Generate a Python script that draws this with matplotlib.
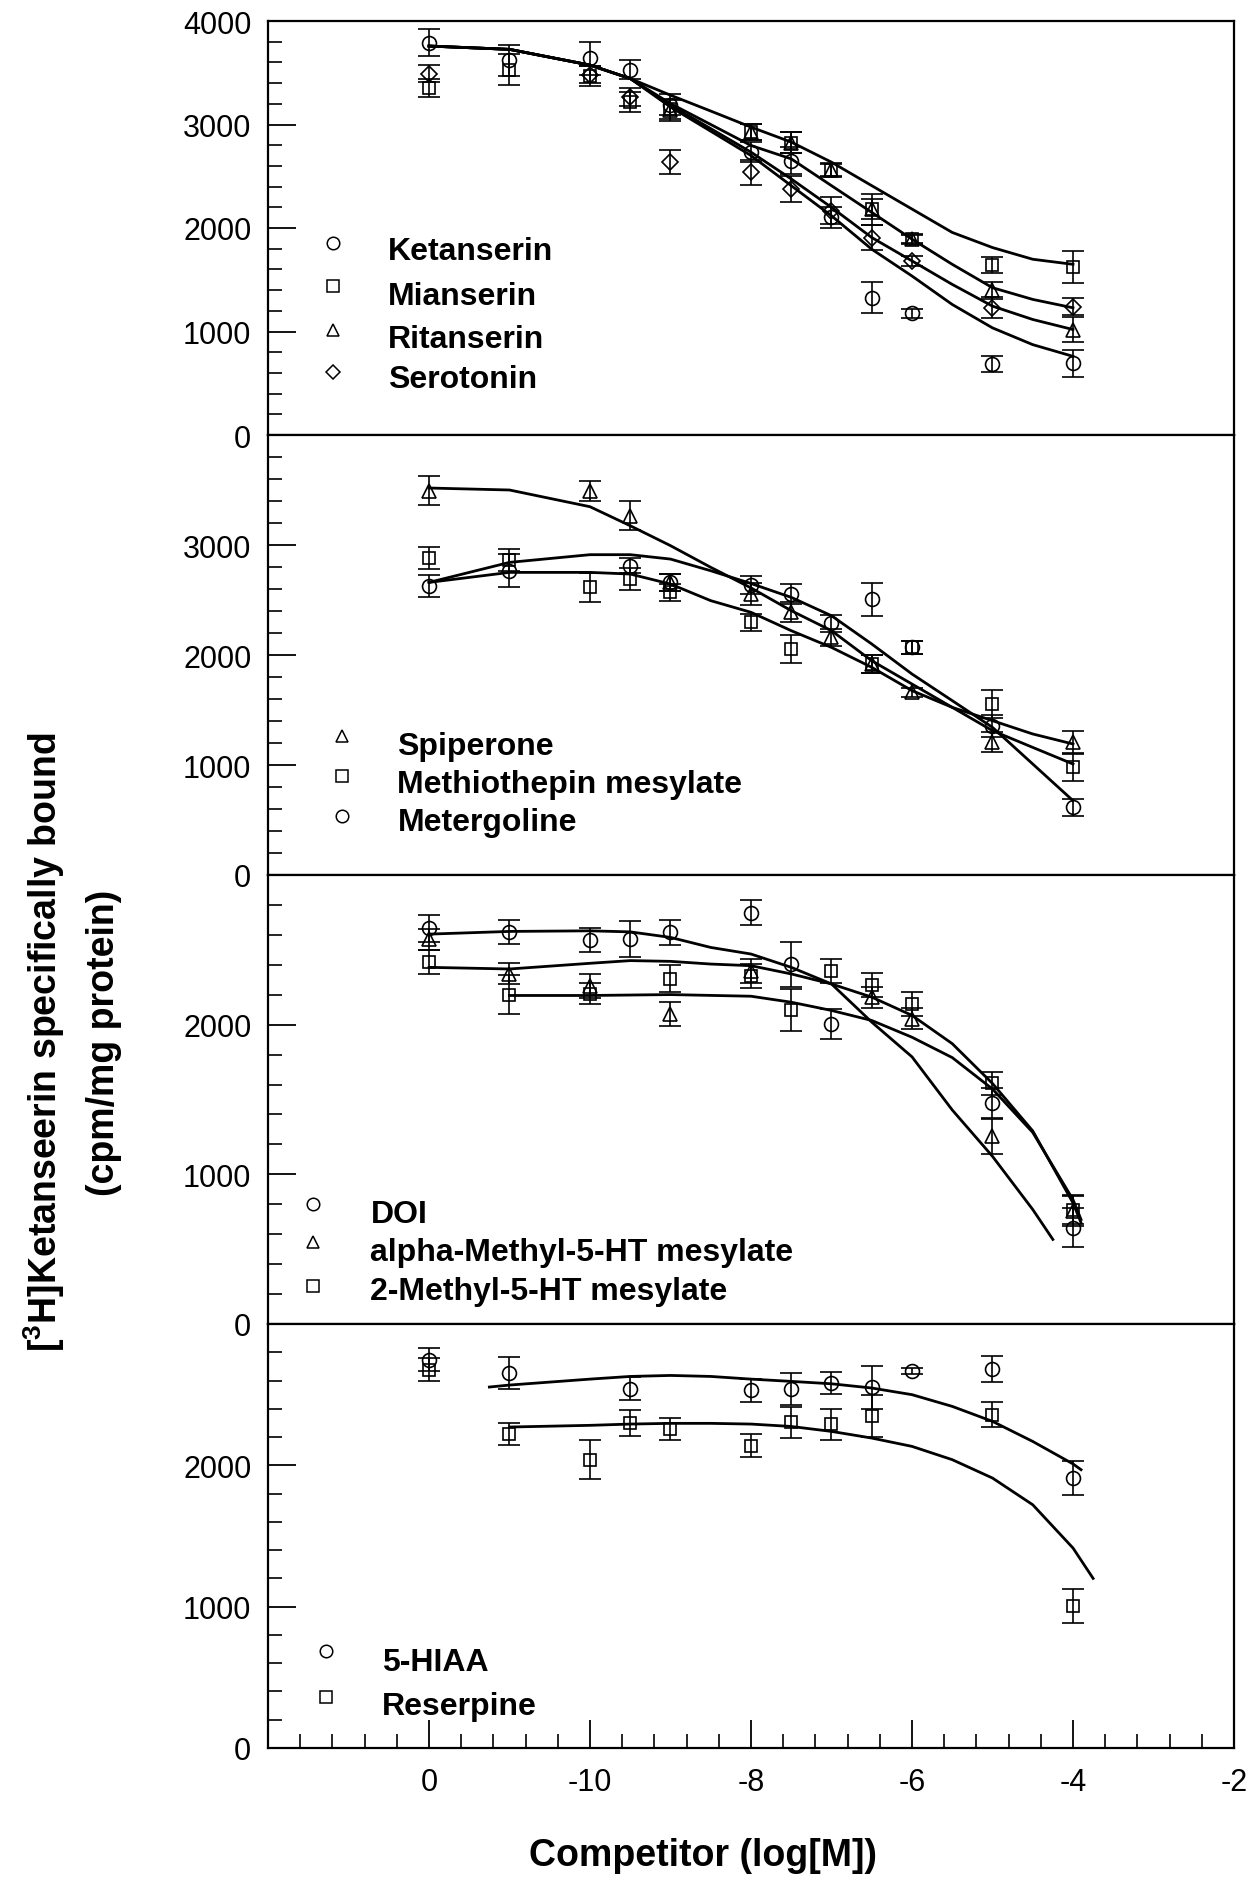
import matplotlib
matplotlib.use("Agg")
import matplotlib.pyplot as plt
from matplotlib.ticker import AutoMinorLocator

plt.rcParams['font.family'] = ['Liberation Sans', 'DejaVu Sans']
plt.rcParams['mathtext.default'] = 'regular'
NARROW = ['Liberation Sans Narrow', 'Liberation Sans', 'DejaVu Sans']

# ---- panel 1 : antagonists ----
ket_x = [-12, -11, -10, -9.5, -9, -8, -7.5, -7, -6.5, -6, -5, -4]
ket_y = [3790, 3622, 3638, 3531, 3192, 2733, 2652, 2102, 1326, 1174, 686, 695]
ket_e = [130, 150, 160, 90, 100, 100, 130, 100, 150, 40, 80, 130]
mia_x = [-12, -11, -10, -9.5, -9, -8, -7.5, -7, -6.5, -6, -5, -4]
mia_y = [3354, 3531, 3470, 3218, 3150, 2927, 2823, 2561, 2183, 1892, 1643, 1623]
mia_e = [90, 150, 100, 100, 100, 80, 100, 60, 150, 50, 80, 150]
rit_x = [-9, -8, -7.5, -7, -6.5, -6, -5, -4]
rit_y = [3137, 2927, 2823, 2561, 2183, 1892, 1397, 1019]
rit_e = [100, 80, 100, 70, 100, 40, 80, 120]
ser_x = [-12, -10, -9.5, -9, -8, -7.5, -7, -6.5, -6, -5, -4]
ser_y = [3492, 3483, 3266, 2638, 2539, 2377, 2167, 1908, 1682, 1229, 1240]
ser_e = [80, 80, 90, 120, 120, 130, 130, 120, 50, 100, 80]

fit1_x = [-12, -11, -10, -9.5, -9, -8.5, -8, -7.5, -7, -6.5, -6, -5.5, -5, -4.5, -4]
fit_mia = [3758, 3726, 3574, 3444, 3283, 3130, 2975, 2830, 2636, 2409, 2183, 1957, 1811, 1698, 1649]
fit_rit = [3758, 3726, 3574, 3444, 3202, 3000, 2797, 2668, 2409, 2151, 1892, 1649, 1423, 1310, 1229]
fit_ser = [3758, 3726, 3574, 3444, 3185, 2960, 2733, 2474, 2199, 1908, 1682, 1455, 1245, 1116, 1019]
fit_ket = [3758, 3726, 3574, 3444, 3169, 2935, 2700, 2409, 2118, 1795, 1536, 1261, 1035, 873, 760]

# ---- panel 2 ----
spi_x = [-12, -10, -9.5, -9, -8, -7.5, -7, -6.5, -6, -5, -4]
spi_y = [3494, 3494, 3266, 2660, 2554, 2388, 2160, 1918, 1660, 1206, 1206]
spi_e = [130, 90, 130, 80, 100, 90, 80, 80, 40, 90, 100]
mth_x = [-12, -11, -10, -9.5, -9, -8, -7.5, -6.5, -6, -5, -4]
mth_y = [2878, 2863, 2615, 2691, 2569, 2297, 2054, 1918, 2069, 1554, 979]
mth_e = [100, 100, 130, 100, 80, 80, 130, 80, 60, 130, 120]
mtg_x = [-12, -11, -9.5, -9, -8, -7.5, -7, -6.5, -6, -5, -4]
mtg_y = [2630, 2766, 2812, 2660, 2639, 2554, 2288, 2509, 2069, 1357, 615]
mtg_e = [100, 150, 70, 80, 80, 90, 80, 150, 60, 100, 80]

fit2_x = [-12, -11, -10, -9.5, -9, -8.5, -8, -7.5, -7, -6.5, -6, -5.5, -5, -4.5, -4]
fit_spi = [3518, 3500, 3348, 3175, 2994, 2797, 2610, 2403, 2221, 1948, 1736, 1524, 1312, 1160, 1009]
fit_mtg = [2660, 2842, 2912, 2912, 2872, 2766, 2650, 2524, 2357, 2100, 1827, 1585, 1342, 1009, 676]
fit_mth = [2660, 2751, 2751, 2736, 2645, 2494, 2388, 2221, 2069, 1888, 1676, 1524, 1403, 1282, 1191]

# ---- panel 3 ----
doi_x = [-12, -11, -10, -9.5, -9, -8, -7.5, -7, -5, -4]
doi_y = [2645, 2616, 2565, 2572, 2616, 2749, 2405, 2006, 1474, 643]
doi_e = [90, 80, 80, 120, 85, 85, 150, 100, 100, 130]
amt_x = [-12, -11, -10, -9, -8, -6.5, -6, -5, -4]
amt_y = [2572, 2339, 2261, 2073, 2361, 2184, 2040, 1253, 754]
amt_e = [70, 70, 80, 80, 80, 70, 70, 120, 100]
mht_x = [-12, -11, -10, -9, -8, -7.5, -7, -6.5, -6, -5, -4]
mht_y = [2417, 2201, 2206, 2306, 2328, 2095, 2361, 2266, 2139, 1607, 765]
mht_e = [80, 130, 70, 90, 80, 140, 80, 80, 80, 80, 100]

fit_doi_x = [-12, -11, -10, -9.5, -9, -8.5, -8, -7.5, -7, -6.5, -6, -5.5, -5, -4.5, -4.25]
fit_doi = [2605, 2623, 2627, 2620, 2583, 2516, 2472, 2383, 2272, 2017, 1785, 1430, 1120, 765, 565]
fit_amt_x = [-12, -11, -10, -9.5, -9, -8.5, -8, -7.5, -7, -6.5, -6, -5.5, -5, -4.5, -4, -3.9]
fit_amt = [2383, 2372, 2410, 2428, 2423, 2405, 2394, 2339, 2272, 2184, 2062, 1873, 1607, 1290, 809, 676]
fit_mht_x = [-11, -10, -9, -8, -7.5, -7, -6.5, -6, -5.5, -5, -4.5, -4, -3.9]
fit_mht = [2195, 2195, 2201, 2190, 2150, 2095, 2028, 1916, 1780, 1570, 1280, 831, 698]

# ---- panel 4 ----
hia_x = [-12, -11, -9.5, -8, -7.5, -7, -6.5, -6, -5, -4]
hia_y = [2747, 2653, 2542, 2530, 2540, 2582, 2551, 2669, 2681, 1910]
hia_e = [80, 110, 80, 80, 110, 80, 150, 20, 90, 120]
res_x = [-12, -11, -10, -9.5, -9, -8, -7.5, -7, -6.5, -5, -4]
res_y = [2676, 2221, 2040, 2299, 2257, 2139, 2304, 2292, 2351, 2358, 1002]
res_e = [80, 80, 140, 90, 80, 80, 110, 110, 150, 90, 120]

fit_hia_x = [-11.25, -11, -10, -9.5, -9, -8.5, -8, -7.5, -7, -6.5, -6, -5.5, -5, -4.5, -4, -3.9]
fit_hia = [2554, 2568, 2610, 2629, 2636, 2629, 2610, 2594, 2577, 2547, 2500, 2417, 2311, 2169, 2010, 1969]
fit_res_x = [-11, -10, -9.5, -9, -8.5, -8, -7.5, -7, -6.5, -6, -5.5, -5, -4.5, -4, -3.75]
fit_res = [2271, 2283, 2292, 2297, 2297, 2292, 2275, 2240, 2193, 2134, 2040, 1910, 1721, 1415, 1200]

xtick_pos = [-12, -10, -8, -6, -4, -2]
xtick_lab = ['0', '-10', '-8', '-6', '-4', '-2']

MS = {'o': 10, 's': 9, '^': 10, 'D': 8}


def series(ax, x, y, e, m):
    ax.errorbar(x, y, yerr=e, fmt='none', ecolor='black', elinewidth=1.2,
                capsize=8, capthick=1.2, zorder=2)
    ax.plot(x, y, linestyle='none', marker=m, ms=MS[m], mfc='none',
            mec='black', mew=1.2, zorder=3)


def legend(ax, mx, tx, rows):
    for m, ty, my, name in rows:
        ax.plot([mx], [my], marker=m, ms=MS[m] * 0.9, mfc='none', mec='black',
                mew=1.1, transform=ax.transAxes, clip_on=False)
        ax.text(tx, ty, name, transform=ax.transAxes, fontsize=23,
                fontweight='bold', va='center', ha='left')


fig = plt.figure(figsize=(12.54, 18.81), dpi=100)
x0, w = 268 / 1254, 966 / 1254
bounds = [(22, 436), (436, 876), (876, 1325), (1325, 1749)]
axes = []
for top, bot in bounds:
    ax = fig.add_axes([x0, 1 - bot / 1881, w, (bot - top) / 1881])
    axes.append(ax)

ylims = [4000, 4000, 3000, 3000]
yticks = [[0, 1000, 2000, 3000, 4000], [0, 1000, 2000, 3000],
          [0, 1000, 2000], [0, 1000, 2000]]
for i, ax in enumerate(axes):
    ax.set_xlim(-14, -2)
    ax.set_ylim(0, ylims[i])
    ax.set_yticks(yticks[i])
    ax.yaxis.set_minor_locator(AutoMinorLocator(5))
    ax.set_xticks(xtick_pos)
    ax.set_xticklabels(xtick_lab, fontsize=25, family=NARROW)
    ax.xaxis.set_minor_locator(AutoMinorLocator(5))
    ax.tick_params(axis='both', which='major', direction='in', length=20,
                   width=1.3, labelsize=22, pad=12)
    ax.tick_params(axis='both', which='minor', direction='in', length=10,
                   width=1.2)
    ax.tick_params(axis='y', which='both', right=False)
    ax.tick_params(axis='x', which='both', top=False)
    ax.tick_params(axis='x', which='major', pad=14)
    for s in ax.spines.values():
        s.set_linewidth(1.6)
    if i < 3:
        ax.tick_params(axis='x', which='both', bottom=False, labelbottom=False)

# panel 1
ax = axes[0]
for fy in (fit_mia, fit_rit, fit_ser, fit_ket):
    ax.plot(fit1_x, fy, color='black', lw=2, zorder=1)
series(ax, ket_x, ket_y, ket_e, 'o')
series(ax, mia_x, mia_y, mia_e, 's')
series(ax, rit_x, rit_y, rit_e, '^')
series(ax, ser_x, ser_y, ser_e, 'D')
legend(ax, 0.067, 0.124, [('o', 0.444, 0.464, 'Ketanserin'),
                          ('s', 0.336, 0.360, 'Mianserin'),
                          ('^', 0.232, 0.254, 'Ritanserin'),
                          ('D', 0.135, 0.152, 'Serotonin')])

# panel 2
ax = axes[1]
for fy in (fit_spi, fit_mtg, fit_mth):
    ax.plot(fit2_x, fy, color='black', lw=2, zorder=1)
series(ax, spi_x, spi_y, spi_e, '^')
series(ax, mth_x, mth_y, mth_e, 's')
series(ax, mtg_x, mtg_y, mtg_e, 'o')
legend(ax, 0.077, 0.134, [('^', 0.293, 0.316, 'Spiperone'),
                          ('s', 0.207, 0.225, 'Methiothepin mesylate'),
                          ('o', 0.120, 0.134, 'Metergoline')])

# panel 3
ax = axes[2]
ax.plot(fit_doi_x, fit_doi, color='black', lw=2, zorder=1)
ax.plot(fit_amt_x, fit_amt, color='black', lw=2, zorder=1)
ax.plot(fit_mht_x, fit_mht, color='black', lw=2, zorder=1)
series(ax, doi_x, doi_y, doi_e, 'o')
series(ax, amt_x, amt_y, amt_e, '^')
series(ax, mht_x, mht_y, mht_e, 's')
legend(ax, 0.047, 0.106, [('o', 0.245, 0.267, 'DOI'),
                          ('^', 0.160, 0.183, 'alpha-Methyl-5-HT mesylate'),
                          ('s', 0.073, 0.085, '2-Methyl-5-HT mesylate')])

# panel 4
ax = axes[3]
ax.plot(fit_hia_x, fit_hia, color='black', lw=2, zorder=1)
ax.plot(fit_res_x, fit_res, color='black', lw=2, zorder=1)
series(ax, hia_x, hia_y, hia_e, 'o')
series(ax, res_x, res_y, res_e, 's')
legend(ax, 0.060, 0.118, [('o', 0.203, 0.229, '5-HIAA'),
                          ('s', 0.099, 0.120, 'Reserpine')])

fig.text(44 / 1254, 1 - 1042 / 1881, '[$^3$H]Ketanseerin specifically bound',
         rotation=90, ha='center', va='center', fontsize=27,
         fontweight='bold', family=NARROW)
fig.text(104 / 1254, 1 - 1043 / 1881, '(cpm/mg protein)',
         rotation=90, ha='center', va='center', fontsize=27,
         fontweight='bold', family=NARROW)
fig.text(703 / 1254, 1 - 1856 / 1881, 'Competitor (log[M])',
         ha='center', va='center', fontsize=27, fontweight='bold',
         family=NARROW)

fig.savefig('out.png', dpi=100, facecolor='white')
